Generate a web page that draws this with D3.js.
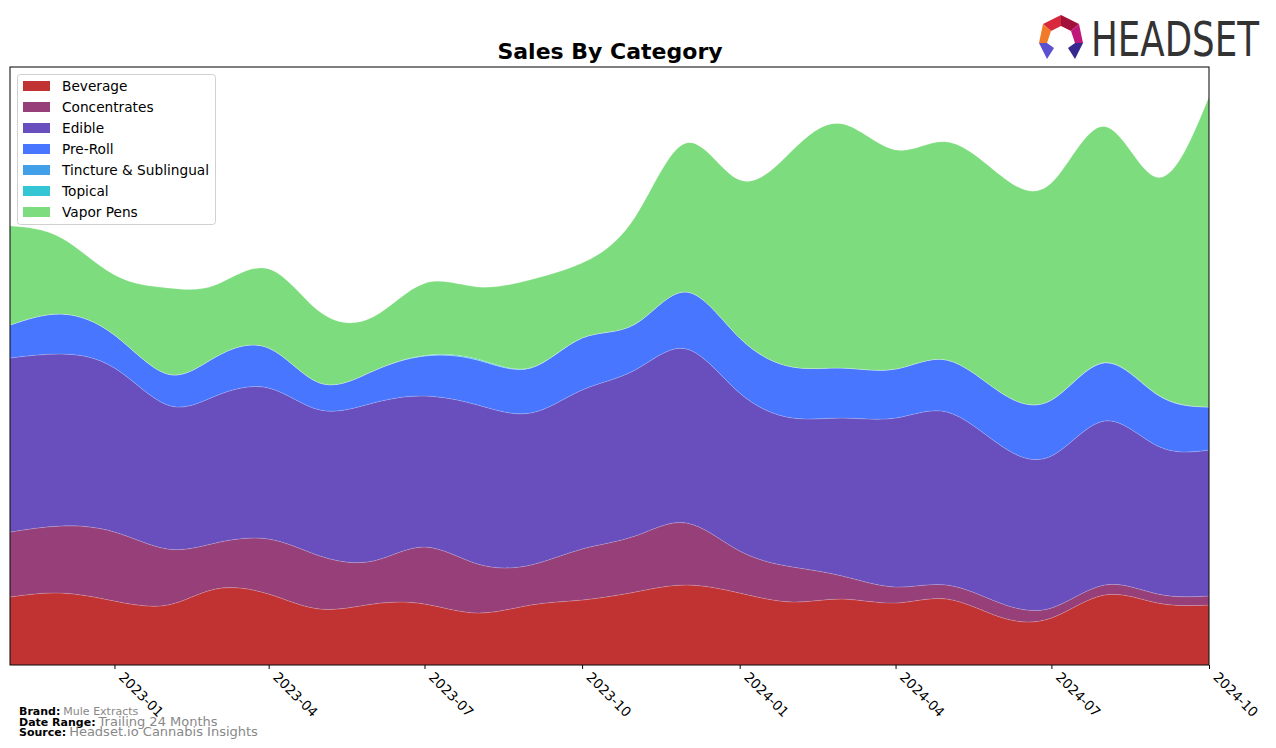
<!DOCTYPE html>
<html>
<head>
<meta charset="utf-8">
<script src="https://cdn.jsdelivr.net/npm/d3@7"></script>
<style>
  html, body { margin: 0; padding: 0; background: #fff; }
  svg { display: block; }
</style>
</head>
<body>
<svg id="chart" width="1276" height="748"></svg>
<script>
// ---- Data (arbitrary sales units) ----
const months = ["2022-11","2022-12","2023-01","2023-02","2023-03","2023-04","2023-05","2023-06",
  "2023-07","2023-08","2023-09","2023-10","2023-11","2023-12","2024-01","2024-02","2024-03",
  "2024-04","2024-05","2024-06","2024-07","2024-08","2024-09","2024-10"];
const categories = ["Beverage","Concentrates","Edible","Pre-Roll","Tincture & Sublingual","Topical","Vapor Pens"];
const beverage     = [68,72,64,60,76,71,56,61,61,52,60,65,73,80,72,63,66,62,66,48,47,70,62,60];
const concentrates = [65,67,69,56,46,55,53,43,57,49,40,51,56,62,42,35,23,16,14,14,10,10,9,9];
const edible       = [174,172,164,144,147,151,146,158,151,159,152,159,166,174,158,149,158,169,173,158,152,164,148,146];
const preRoll      = [33,40,33,31,39,40,27,32,40,45,45,52,46,57,55,51,50,49,52,53,56,58,51,43];
const tincture     = [0,0,0,0,0,0,0,0,0,0,0,0,0,0,0,0,0,0,0,0,0,0.5,0.5,0];
const topical      = [0,0,0,0,0,0,0,0,0.6,1,0.3,0,0,0,0,0,0,0,0,0,0,0,0,0];
const vaporPens    = [99,76,60,86,72,79,71,54,72,72,88,75,107,149,158,217,244,219,218,217,217,236,217,310];
const tickLabels = ["2023-01","2023-04","2023-07","2023-10","2024-01","2024-04","2024-07","2024-10"];
const colors = ["#c13232","#963f78","#694fbd","#4876ff","#41a0e8","#35c6d5","#7ddc7d"];

const seriesArrays = [beverage, concentrates, edible, preRoll, tincture, topical, vaporPens];
const parse = d3.timeParse("%Y-%m");
const table = months.map((m, i) => {
  const row = { date: parse(m) };
  categories.forEach((c, j) => row[c] = seriesArrays[j][i]);
  return row;
});

// ---- Layout ----
const svg = d3.select("#chart");
const L = 10, R = 1209, T = 67, B = 665;

const x = d3.scaleTime().domain([parse(months[0]), parse(months[months.length - 1])]).range([L, R]);
const y = d3.scaleLinear().domain([0, 598]).range([B, T]);

const stack = d3.stack().keys(categories);
const layers = stack(table);

const area = d3.area()
  .curve(d3.curveNatural)
  .x(d => x(d.data.date))
  .y0(d => y(d[0]))
  .y1(d => y(d[1]));

svg.append("defs").append("clipPath").attr("id", "clip")
  .append("rect").attr("x", L).attr("y", T).attr("width", R - L).attr("height", B - T);

const g = svg.append("g").attr("clip-path", "url(#clip)");
g.selectAll("path.layer").data(layers).enter().append("path")
  .attr("class", "layer")
  .attr("d", area)
  .attr("fill", (d, i) => colors[i])
  .attr("stroke", "rgba(255,255,255,0.25)")
  .attr("stroke-width", 0.6);

// Frame
svg.append("rect").attr("x", L).attr("y", T).attr("width", R - L).attr("height", B - T)
  .attr("fill", "none").attr("stroke", "#000").attr("stroke-width", 1);

// X axis
const axis = d3.axisBottom(x)
  .tickValues(tickLabels.map(parse))
  .tickFormat(d3.timeFormat("%Y-%m"))
  .tickSize(4)
  .tickSizeOuter(0);
const ax = svg.append("g").attr("transform", `translate(0,${B})`).call(axis);
ax.select(".domain").remove();
ax.selectAll(".tick line").attr("stroke", "#000");
ax.selectAll(".tick text")
  .attr("font-family", "DejaVu Sans, sans-serif")
  .attr("font-size", 13.5)
  .attr("fill", "#000")
  .attr("text-anchor", "start")
  .attr("dy", null)
  .attr("y", null)
  .attr("transform", "translate(3,13) rotate(45)");

// Title
svg.append("text").attr("x", 610).attr("y", 59).attr("text-anchor", "middle")
  .attr("font-family", "DejaVu Sans, sans-serif").attr("font-weight", "bold")
  .attr("font-size", 22).text("Sales By Category");

// Legend
const lg = svg.append("g");
lg.append("rect").attr("x", 17.5).attr("y", 74.5).attr("width", 198).attr("height", 150)
  .attr("rx", 3).attr("fill", "#fff").attr("fill-opacity", 0.85).attr("stroke", "#d0d0d0");
categories.forEach((c, i) => {
  const cy = 86 + i * 21;
  lg.append("rect").attr("x", 23).attr("y", cy - 5).attr("width", 27).attr("height", 10).attr("fill", colors[i]);
  lg.append("text").attr("x", 62).attr("y", cy + 5).attr("font-family", "DejaVu Sans, sans-serif")
    .attr("font-size", 13.7).attr("fill", "#000").text(c);
});

// Footer
const foot = [
  ["Brand:", "Mule Extracts", 715, 11],
  ["Date Range:", "Trailing 24 Months", 726, 13],
  ["Source:", "Headset.io Cannabis Insights", 736, 13]
];
foot.forEach(([k, v, yy, fs]) => {
  const t = svg.append("text").attr("x", 19).attr("y", yy).attr("font-family", "DejaVu Sans, sans-serif");
  t.append("tspan").attr("font-weight", "bold").attr("font-size", 11).attr("fill", "#000").text(k);
  t.append("tspan").attr("dx", 3).attr("font-size", fs).attr("fill", "#888").text(v);
});

// Logo
const logo = svg.append("g");
const polys = [
  [[[1061,15],[1043,24],[1051,31],[1061,26]], "#d8283c"],
  [[[1061,15],[1079,24],[1071,31],[1061,26]], "#a3113a"],
  [[[1043,24],[1039,43],[1047,43],[1051,31]], "#f07a28"],
  [[[1079,24],[1083,43],[1075,43],[1071,31]], "#c0187a"],
  [[[1039,43],[1047,43],[1054,48],[1047,59]], "#5a50d0"],
  [[[1083,43],[1075,43],[1068,48],[1075,59]], "#35298f"]
];
polys.forEach(([pts, col]) => {
  logo.append("polygon").attr("points", pts.map(p => p.join(",")).join(" ")).attr("fill", col);
});
logo.append("text").attr("x", 1091).attr("y", 56)
  .attr("font-family", "Liberation Sans Narrow, DejaVu Sans Condensed, sans-serif")
  .attr("font-size", 48).attr("fill", "#333")
  .attr("textLength", 168).attr("lengthAdjust", "spacingAndGlyphs")
  .text("HEADSET");
</script>
</body>
</html>
